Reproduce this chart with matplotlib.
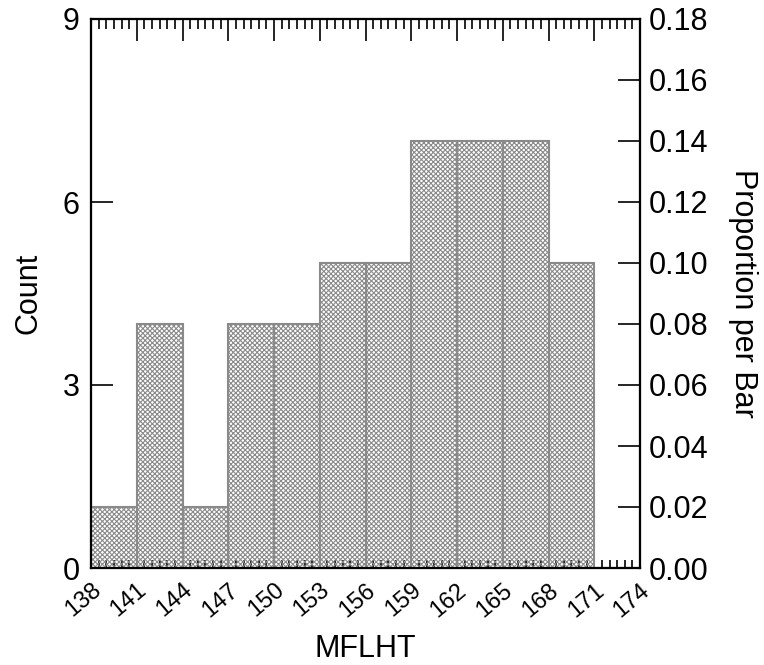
import matplotlib
matplotlib.use("Agg")
import matplotlib.pyplot as plt
import matplotlib.transforms as mtransforms
import numpy as np
from matplotlib.ticker import MultipleLocator

plt.rcParams['font.family'] = ['Liberation Sans', 'DejaVu Sans']
plt.rcParams['hatch.linewidth'] = 0.8

bin_edges = [138, 141, 144, 147, 150, 153, 156, 159, 162, 165, 168, 171]
counts = [1, 4, 1, 4, 4, 5, 5, 7, 7, 7, 5]
x_ticks = [138, 141, 144, 147, 150, 153, 156, 159, 162, 165, 168, 171, 174]
y_ticks = [0, 3, 6, 9]
prop_ticks = [0.00, 0.02, 0.04, 0.06, 0.08, 0.10, 0.12, 0.14, 0.16, 0.18]

total = sum(counts)

fig = plt.figure(figsize=(7.64, 6.65), dpi=100)
ax = fig.add_axes([91/764, 1-568/665, (640-91)/764, (568-19)/665])
ax.set_axisbelow(True)

lefts = bin_edges[:-1]
widths = np.diff(bin_edges)
ax.bar(lefts, counts, width=widths, align='edge', facecolor='none',
       edgecolor='#8a8a8a', linewidth=1.5, hatch='xxxxxxx', zorder=2)

ax.set_xlim(138, 174)
ax.set_ylim(0, 9)
ax.set_xticks(x_ticks)
ax.set_xticklabels([str(t) for t in x_ticks], rotation=40, ha='right',
                   rotation_mode='anchor', fontsize=17)
offset = mtransforms.ScaledTranslation(7/100, 0, fig.dpi_scale_trans)
for lbl in ax.get_xticklabels():
    lbl.set_transform(lbl.get_transform() + offset)
ax.xaxis.set_minor_locator(MultipleLocator(0.5))
ax.set_yticks(y_ticks)
ax.set_yticklabels([str(t) for t in y_ticks], fontsize=22)

ax.tick_params(axis='x', which='both', direction='in', length=6, width=1.2,
               top=False, bottom=True, pad=8)
ax.tick_params(axis='y', which='major', direction='in', length=16, width=1.2,
               left=True, right=False, pad=8)
for s in ax.spines.values():
    s.set_linewidth(1.5)
    s.set_color('black')

# top ticks
axt = ax.twiny()
axt.set_xlim(138, 174)
axt.set_xticks(x_ticks)
axt.xaxis.set_minor_locator(MultipleLocator(0.5))
axt.tick_params(axis='x', which='major', direction='in', length=16, width=1.2,
                top=True, bottom=False, labeltop=False)
axt.tick_params(axis='x', which='minor', direction='in', length=7, width=1.2,
                top=True, bottom=False)

ax2 = ax.twinx()
ax2.set_ylim(0, 9/total)
ax2.set_yticks(prop_ticks)
ax2.set_yticklabels([f"{t:.2f}" for t in prop_ticks], fontsize=22)
ax2.tick_params(axis='y', direction='in', length=16, width=1.2, pad=6)
for a in (ax2, axt):
    for s in a.spines.values():
        s.set_linewidth(1.5)

ax.set_xlabel('MFLHT', fontsize=22)
ax.xaxis.set_label_coords(0.5, -0.12)
ax.set_ylabel('Count', fontsize=22, labelpad=14)
ax2.set_ylabel('Proportion per Bar', fontsize=22, rotation=270, labelpad=36)

fig.savefig('out.png', dpi=100)
